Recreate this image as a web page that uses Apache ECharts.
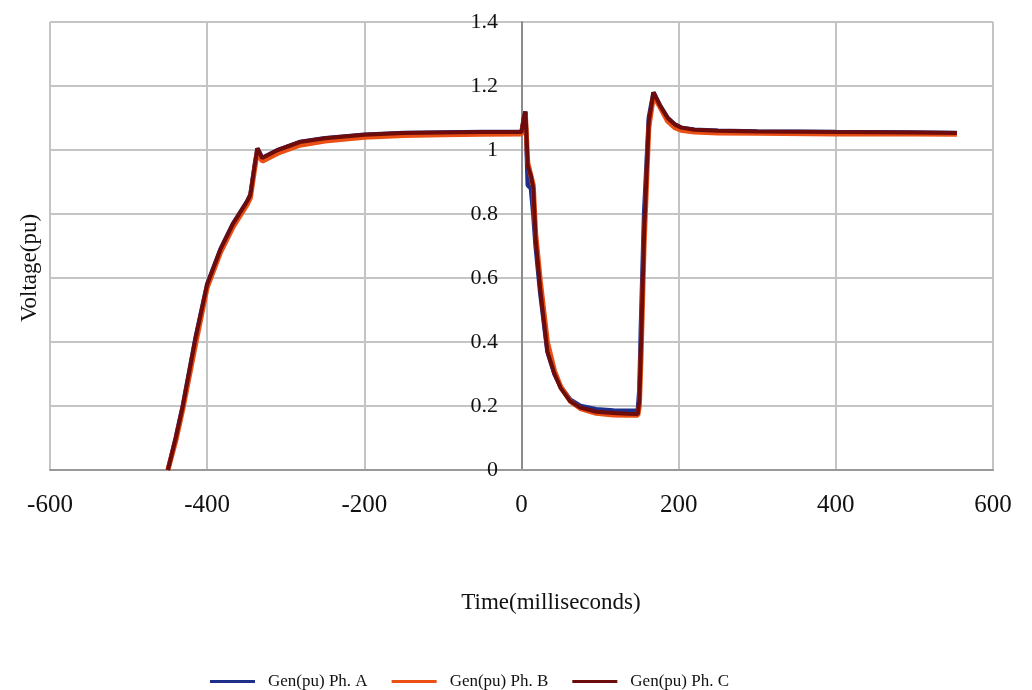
<!DOCTYPE html>
<html>
<head>
<meta charset="utf-8">
<script src="https://cdn.jsdelivr.net/npm/echarts@6/dist/echarts.min.js"></script>
<style>
html,body{margin:0;padding:0;background:#fff;}
#chart{width:1032px;height:690px;}
</style>
</head>
<body>
<div id="chart"></div>
<script>
// Time (ms)
var timeMs = [-450,-440,-431,-415,-400,-383,-367,-349,-345,-339,-336,-330,-310,-282,-250,-200,-150,-100,-50,0,3,5,8,12,15,18,24,33,42,50,62,75,95,117,135,148,150,152,156,162,168,176,186,195,203,220,250,300,400,500,554];
var phaseA = [0,0.10,0.20,0.41,0.58,0.69,0.77,0.84,0.86,0.96,1.005,0.975,1.0,1.025,1.037,1.048,1.053,1.055,1.056,1.056,1.10,1.12,0.89,0.88,0.80,0.70,0.55,0.37,0.30,0.26,0.22,0.2,0.19,0.186,0.185,0.185,0.25,0.45,0.80,1.10,1.18,1.14,1.10,1.08,1.07,1.063,1.06,1.058,1.056,1.055,1.053];
var phaseB = [0,0.09,0.19,0.39,0.57,0.68,0.76,0.83,0.85,0.95,0.995,0.965,0.99,1.015,1.028,1.04,1.045,1.048,1.049,1.05,1.09,1.11,0.96,0.92,0.89,0.74,0.59,0.40,0.31,0.26,0.215,0.192,0.177,0.172,0.171,0.171,0.2,0.34,0.70,1.07,1.17,1.135,1.09,1.07,1.062,1.056,1.053,1.052,1.05,1.05,1.049];
var phaseC = [0,0.10,0.20,0.41,0.58,0.69,0.77,0.84,0.86,0.96,1.005,0.975,1.0,1.025,1.037,1.048,1.053,1.055,1.056,1.056,1.10,1.12,0.95,0.92,0.88,0.72,0.56,0.37,0.30,0.255,0.215,0.195,0.182,0.178,0.176,0.175,0.22,0.38,0.74,1.09,1.18,1.14,1.10,1.08,1.07,1.063,1.06,1.058,1.056,1.055,1.053];
var seriesNames = ['Gen(pu) Ph. A','Gen(pu) Ph. B','Gen(pu) Ph. C'];
var xTicks = [-600,-400,-200,0,200,400,600];
var yTicks = [0,0.2,0.4,0.6,0.8,1,1.2,1.4];

function pairs(vals){ return timeMs.map(function(t,i){ return [t, vals[i]]; }); }

var serif = '"Liberation Serif","DejaVu Serif",serif';
var chart = echarts.init(document.getElementById('chart'));
chart.setOption({
  animation:false,
  backgroundColor:'#fff',
  grid:{left:50,right:39,top:22,bottom:220},
  xAxis:{
    type:'value', min:xTicks[0], max:xTicks[xTicks.length-1], interval:200,
    axisLine:{onZero:false, lineStyle:{color:'#999',width:2}},
    axisTick:{show:false},
    axisLabel:{margin:23,color:'#111',fontFamily:serif,fontSize:25},
    splitLine:{show:true,lineStyle:{color:'#c4c4c4',width:2}}
  },
  yAxis:{
    type:'value', min:yTicks[0], max:yTicks[yTicks.length-1], interval:0.2,
    axisLine:{show:true,onZero:true,lineStyle:{color:'#8c8c8c',width:2}},
    axisTick:{show:false},
    axisLabel:{margin:-448,color:'#111',fontFamily:serif,fontSize:22},
    splitLine:{show:true,lineStyle:{color:'#c4c4c4',width:2}}
  },
  legend:{
    left:205, top:668, itemWidth:45, itemHeight:3, itemGap:24,
    icon:'rect',
    textStyle:{fontFamily:serif,fontSize:17,color:'#111',padding:[0,0,0,8]},
    data:seriesNames
  },
  graphic:[
    {type:'text',x:551,y:603,style:{text:'Time(milliseconds)',font:'23px '+serif,fill:'#111',align:'center',verticalAlign:'middle'}},
    {type:'text',x:30,y:268,rotation:Math.PI/2,style:{text:'Voltage(pu)',font:'23px '+serif,fill:'#111',align:'center',verticalAlign:'middle'}}
  ],
  series:[
    {name:seriesNames[0],type:'line',data:pairs(phaseA),showSymbol:false,symbol:'none',color:'#1f2f8c',lineStyle:{width:4.5}},
    {name:seriesNames[1],type:'line',data:pairs(phaseB),showSymbol:false,symbol:'none',color:'#ea4f14',lineStyle:{width:5}},
    {name:seriesNames[2],type:'line',data:pairs(phaseC),showSymbol:false,symbol:'none',color:'#6e0c0c',lineStyle:{width:4}}
  ]
});
</script>
</body>
</html>
